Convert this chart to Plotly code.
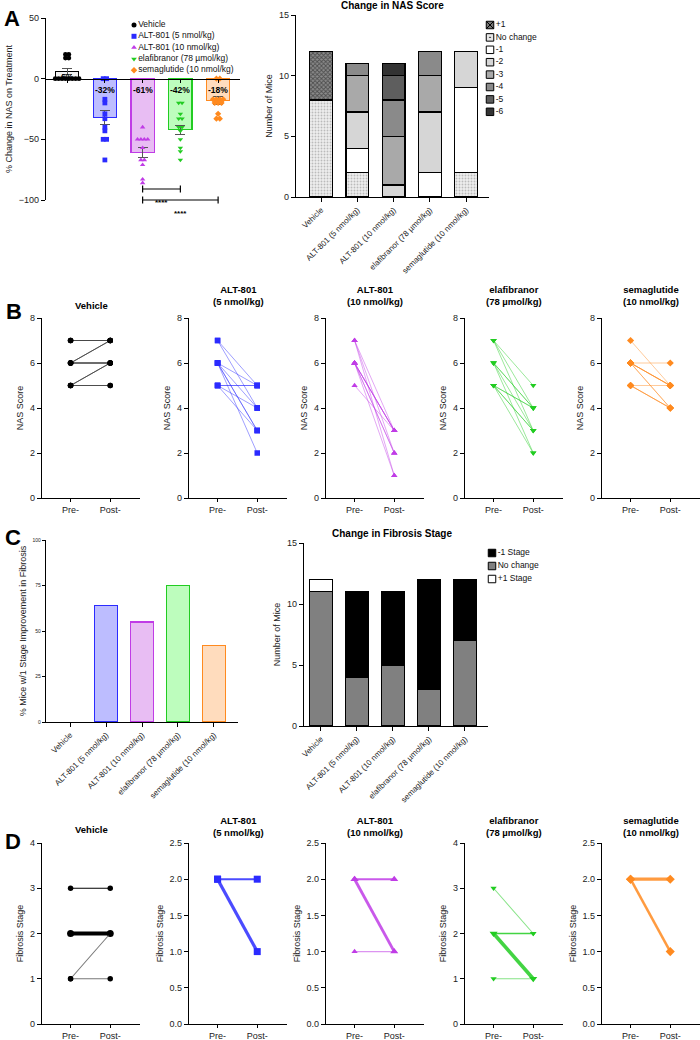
import plotly.graph_objects as go
from collections import Counter

W, H = 700, 1040
FONT = "Liberation Sans, Arial, sans-serif"

# ---------------- data ----------------
groups = ["Vehicle", "ALT-801 (5 nmol/kg)", "ALT-801 (10 nmol/kg)",
          "elafibranor (78 µmol/kg)", "semaglutide (10 nmol/kg)"]
group_titles = ["Vehicle", "ALT-801<br>(5 nmol/kg)", "ALT-801<br>(10 nmol/kg)",
                "elafibranor<br>(78 µmol/kg)", "semaglutide<br>(10 nmol/kg)"]

# A: % change in NAS
nas_pct_mean = [6, -32, -61, -42, -18]
nas_pct_sem = [2.6, 6.0, 4.3, 3.8, 3.0]
nas_pct_vehicle = [0, 0, 0, 0, 0, 0, 0, 0, 17, 17, 20, 20]
nas_pct_alt5 = [0, 0, -17, -20, -29, -33, -40, -43, -50, -50, -67]
nas_pct_alt10 = [-40, -50, -50, -50, -50, -57, -67, -67, -71, -83, -86]
nas_pct_elaf = [-20, -20, -29, -33, -33, -40, -40, -43, -50, -60, -57, -67]
nas_pct_sema = [0, 0, -17, -17, -17, -17, -20, -20, -20, -29, -33, -33]

# A: change in NAS score (number of mice)
nas_plus1 = [4, 0, 0, 0, 0]
nas_nochange = [8, 2, 0, 0, 2]
nas_m1 = [0, 2, 0, 2, 7]
nas_m2 = [0, 3, 1, 5, 3]
nas_m3 = [0, 3, 4, 3, 0]
nas_m4 = [0, 1, 3, 2, 0]
nas_m5 = [0, 0, 2, 0, 0]
nas_m6 = [0, 0, 1, 0, 0]

# B: NAS score pre / post per mouse
nas_pre_vehicle = [7, 7, 7, 6, 6, 6, 6, 6, 5, 5, 5, 5]
nas_post_vehicle = [7, 7, 7, 7, 7, 6, 6, 6, 6, 6, 5, 5]
nas_pre_alt5 = [5, 5, 6, 5, 7, 6, 5, 7, 6, 6, 6]
nas_post_alt5 = [5, 5, 5, 4, 5, 4, 3, 4, 3, 3, 2]
nas_pre_alt10 = [5, 6, 6, 6, 6, 7, 6, 6, 7, 6, 7]
nas_post_alt10 = [3, 3, 3, 3, 3, 3, 2, 2, 2, 1, 1]
nas_pre_elaf = [5, 5, 7, 6, 6, 5, 5, 7, 6, 5, 7, 6]
nas_post_elaf = [4, 4, 5, 4, 4, 3, 3, 4, 3, 2, 3, 2]
nas_pre_sema = [6, 5, 6, 6, 6, 6, 5, 5, 5, 7, 6, 6]
nas_post_sema = [6, 5, 5, 5, 5, 5, 4, 4, 4, 5, 4, 4]

# C: fibrosis
fib_improved_pct = [0, 64, 55, 75, 42]
fib_minus1 = [0, 7, 6, 9, 5]
fib_nochange = [11, 4, 5, 3, 7]
fib_plus1 = [1, 0, 0, 0, 0]

# D: fibrosis stage pre / post per mouse
fib_pre_vehicle = [3, 2, 2, 2, 2, 2, 2, 2, 2, 2, 1, 1]
fib_post_vehicle = [3, 2, 2, 2, 2, 2, 2, 2, 2, 2, 2, 1]
fib_pre_alt5 = [2, 2, 2, 2, 2, 2, 2, 2, 2, 2, 2]
fib_post_alt5 = [2, 2, 2, 2, 1, 1, 1, 1, 1, 1, 1]
fib_pre_alt10 = [2, 2, 2, 2, 2, 2, 2, 2, 2, 2, 1]
fib_post_alt10 = [2, 2, 2, 2, 1, 1, 1, 1, 1, 1, 1]
fib_pre_elaf = [3, 2, 2, 1, 2, 2, 2, 2, 2, 2, 2, 2]
fib_post_elaf = [2, 2, 2, 1, 1, 1, 1, 1, 1, 1, 1, 1]
fib_pre_sema = [2, 2, 2, 2, 2, 2, 2, 2, 2, 2, 2, 2]
fib_post_sema = [2, 2, 2, 2, 2, 2, 2, 1, 1, 1, 1, 1]

# ---------------- styles ----------------
line_colors = ["#000000", "#2b2bff", "#c03ce6", "#22cc22", "#ff8a1f"]
fill_colors = ["#f2f2f2", "#bdbdff", "#e8bdf3", "#bdfdbd", "#ffdcbd"]
rgb = [(0, 0, 0), (43, 43, 255), (192, 60, 230), (34, 204, 34), (255, 138, 31)]
symbols = ["circle", "square", "triangle-up", "triangle-down", "diamond"]

fig = go.Figure()
layout = {}


def fx(p):
    return p / W


def fy(p):
    return 1 - p / H


def add_axes(n, left, right, top, bottom, xr, yr, xkw=None, ykw=None):
    base = dict(showline=True, linecolor="black", linewidth=1.2, ticks="outside",
                ticklen=4, tickwidth=1.1, tickcolor="black", showgrid=False,
                zeroline=False, automargin=False, tickfont=dict(size=9, color="#222"))
    xa = dict(base, domain=[fx(left), fx(right)], range=xr, anchor=f"y{n}")
    ya = dict(base, domain=[fy(bottom), fy(top)], range=yr, anchor=f"x{n}")
    xa.update(xkw or {})
    ya.update(ykw or {})
    s = "" if n == 1 else str(n)
    layout[f"xaxis{s}"] = xa
    layout[f"yaxis{s}"] = ya


def ref(n):
    s = "" if n == 1 else str(n)
    return dict(xaxis=f"x{s}", yaxis=f"y{s}")


def ytitle(text, size=9):
    return dict(text=text, font=dict(size=size, color="#222"), standoff=4)


cat_x = dict(tickvals=list(range(5)), ticktext=groups, tickangle=-45,
             tickfont=dict(size=8, color="#222"))

annotations = []
shapes = []


def note(text, x, y, size=9, bold=False, xanchor="center", yanchor="middle"):
    annotations.append(dict(text=f"<b>{text}</b>" if bold else text, x=fx(x), y=fy(y),
                            xref="paper", yref="paper", showarrow=False,
                            xanchor=xanchor, yanchor=yanchor,
                            font=dict(size=size, color="black", family=FONT)))


# ---------------- A left: % change in NAS ----------------
a_top, a_bottom, a_min, a_max = 18, 200, -100, 50
zero_px = a_top + a_max / (a_max - a_min) * (a_bottom - a_top)
add_axes(1, 46, 240, a_top, a_bottom, [-0.56, 4.58], [a_min, a_max],
         xkw=dict(anchor="free", position=fy(zero_px), tickvals=list(range(5)),
                  showticklabels=False, ticklen=3),
         ykw=dict(tickvals=[-100, -50, 0, 50], title=ytitle("% Change in NAS on Treatment")))

fig.add_trace(go.Bar(x=list(range(5)), y=nas_pct_mean, width=0.62,
                     marker=dict(color=fill_colors, line=dict(color=line_colors, width=1.2)),
                     error_y=dict(type="data", array=nas_pct_sem, color="#555",
                                  thickness=1, width=5),
                     showlegend=False, **ref(1)))

pct_points = [nas_pct_vehicle, nas_pct_alt5, nas_pct_alt10, nas_pct_elaf, nas_pct_sema]
for i, vals in enumerate(pct_points):
    counts = Counter(vals)
    seen = Counter()
    xs = []
    for v in vals:
        k = counts[v]
        xs.append(i + (seen[v] - (k - 1) / 2) * 0.09)
        seen[v] += 1
    fig.add_trace(go.Scatter(x=xs, y=vals, mode="markers", cliponaxis=False,
                             marker=dict(symbol=symbols[i], size=4.8, color=line_colors[i]),
                             showlegend=False, **ref(1)))

for i, v in enumerate(nas_pct_mean):
    annotations.append(dict(text=f"<b>{v}%</b>", x=i, y=1 if v > 0 else -9,
                            xref="x", yref="y", showarrow=False,
                            font=dict(size=8.5, color="black", family=FONT)))

# significance brackets
for (a, b, py) in [(2, 3, 189), (2, 4, 200)]:
    shapes.append(dict(type="line", xref="x", yref="paper", x0=a, x1=b, y0=fy(py), y1=fy(py),
                       line=dict(color="black", width=1.2)))
    for xe in (a, b):
        shapes.append(dict(type="line", xref="x", yref="paper", x0=xe, x1=xe,
                           y0=fy(py - 3.5), y1=fy(py + 3.5), line=dict(color="black", width=1.2)))
    annotations.append(dict(text="<b>****</b>", x=(a + b) / 2, y=fy(py + 7), xref="x",
                            yref="paper", showarrow=False,
                            font=dict(size=8, color="black", family=FONT)))

# ---------------- A right: change in NAS score ----------------
add_axes(2, 296, 489, 15, 197, [-0.69, 4.63], [0, 15],
         xkw=cat_x, ykw=dict(tickvals=[0, 5, 10, 15], title=ytitle("Number of Mice")))

nas_stack = [
    ("No change", nas_nochange, dict(color="#eeeeee", pattern=dict(shape=".", fgcolor="#888", size=3, solidity=0.3))),
    ("-1", nas_m1, dict(color="white")),
    ("-2", nas_m2, dict(color="#d6d6d6")),
    ("-3", nas_m3, dict(color="#a9a9a9")),
    ("-4", nas_m4, dict(color="#8a8a8a")),
    ("-5", nas_m5, dict(color="#5e5e5e")),
    ("-6", nas_m6, dict(color="#333333")),
    ("+1", nas_plus1, dict(color="#8a8a8a", pattern=dict(shape="x", fgcolor="#111", size=3, solidity=0.5))),
]
for name, vals, mk in nas_stack:
    mk = dict(mk, line=dict(color="black", width=1.3))
    fig.add_trace(go.Bar(x=list(range(5)), y=[v if v else None for v in vals], width=0.63,
                         name=name, marker=mk, showlegend=False, **ref(2)))

note("Change in NAS Score", 392, 6, size=10, bold=True)

# ---------------- B: NAS pre/post ----------------
b_left = [42, 189, 326, 465, 602]
nas_pairs = [(nas_pre_vehicle, nas_post_vehicle), (nas_pre_alt5, nas_post_alt5),
             (nas_pre_alt10, nas_post_alt10), (nas_pre_elaf, nas_post_elaf),
             (nas_pre_sema, nas_post_sema)]
prepost_x = dict(tickvals=[0, 1], ticktext=["Pre-", "Post-"], ticklen=3)
for i, (pre, post) in enumerate(nas_pairs):
    n = 3 + i
    add_axes(n, b_left[i], b_left[i] + 98, 318, 498, [-0.72, 1.75], [0, 8],
             xkw=prepost_x, ykw=dict(tickvals=[0, 2, 4, 6, 8], title=ytitle("NAS Score")))
    xs, ys = [], []
    for a, b in zip(pre, post):
        xs += [0, 1, None]
        ys += [a, b, None]
    lc = "rgba(70,70,70,0.9)" if i == 0 else "rgba(%d,%d,%d,0.5)" % rgb[i]
    fig.add_trace(go.Scatter(x=xs, y=ys, mode="lines+markers",
                             line=dict(color=lc, width=0.9),
                             marker=dict(symbol=symbols[i], size=5.5, color=line_colors[i]),
                             showlegend=False, **ref(n)))
    cx = b_left[i] + 49
    two = "<br>" in group_titles[i]
    note(group_titles[i], cx, 309 if two else 313, size=9.5, bold=True, yanchor="bottom")

# ---------------- C left: % mice improved ----------------
add_axes(8, 46, 238, 540, 722, [-0.67, 4.67], [0, 100],
         xkw=cat_x,
         ykw=dict(tickvals=[0, 25, 50, 75, 100], tickfont=dict(size=5, color="#222"),
                  ticklen=3, title=ytitle("% Mice w/1 Stage Improvement in Fibrosis")))
fig.add_trace(go.Bar(x=list(range(5)), y=[v if v else None for v in fib_improved_pct], width=0.64,
                     marker=dict(color=fill_colors, line=dict(color=line_colors, width=1.6)),
                     showlegend=False, **ref(8)))

# ---------------- C right: change in fibrosis stage ----------------
add_axes(9, 304, 488, 543, 726, [-0.47, 4.64], [0, 15],
         xkw=cat_x, ykw=dict(tickvals=[0, 5, 10, 15], title=ytitle("Number of Mice")))
fib_stack = [("No change", fib_nochange, "#808080"), ("-1 Stage", fib_minus1, "#000000"),
             ("+1 Stage", fib_plus1, "#ffffff")]
for name, vals, col in fib_stack:
    fig.add_trace(go.Bar(x=list(range(5)), y=[v if v else None for v in vals], width=0.64,
                         name=name, marker=dict(color=col, line=dict(color="black", width=1.3)),
                         showlegend=False, **ref(9)))
note("Change in Fibrosis Stage", 392, 533, size=10, bold=True)

# ---------------- D: fibrosis pre/post ----------------
fib_pairs = [(fib_pre_vehicle, fib_post_vehicle), (fib_pre_alt5, fib_post_alt5),
             (fib_pre_alt10, fib_post_alt10), (fib_pre_elaf, fib_post_elaf),
             (fib_pre_sema, fib_post_sema)]
fib_ranges = [4, 2.5, 2.5, 4, 2.5]
for i, (pre, post) in enumerate(fib_pairs):
    n = 10 + i
    top = fib_ranges[i]
    if top == 4:
        yk = dict(tickvals=[0, 1, 2, 3, 4])
    else:
        yk = dict(tickvals=[0, 0.5, 1, 1.5, 2, 2.5], tickformat=".1f")
    yk["title"] = ytitle("Fibrosis Stage")
    add_axes(n, b_left[i], b_left[i] + 98, 843, 1024, [-0.72, 1.75], [0, top],
             xkw=prepost_x, ykw=yk)
    for (a, b), c in Counter(zip(pre, post)).items():
        if i == 0:
            lc = "black" if c > 1 or a == b == 3 else "#777"
        else:
            lc = "rgba(%d,%d,%d,%s)" % (rgb[i] + ((0.85 if c > 1 else 0.55),))
        fig.add_trace(go.Scatter(x=[0, 1], y=[a, b], mode="lines+markers",
                                 line=dict(color=lc, width=0.7 + 0.36 * c),
                                 marker=dict(symbol=symbols[i], size=5.5 + (1.5 if c > 3 else 0),
                                             color=line_colors[i]),
                                 showlegend=False, **ref(n)))
    cx = b_left[i] + 49
    two = "<br>" in group_titles[i]
    note(group_titles[i], cx, 840 if two else 837, size=9.5, bold=True, yanchor="bottom")

# ---------------- legends (drawn on an overlay axis in pixel units) ----------------
layout["xaxis15"] = dict(domain=[0, 1], range=[0, W], visible=False, anchor="y15", fixedrange=True)
layout["yaxis15"] = dict(domain=[0, 1], range=[H, 0], visible=False, anchor="x15", fixedrange=True)

# A left legend
fig.add_trace(go.Scatter(x=[134] * 5, y=[25 + 11.3 * k for k in range(5)], mode="markers+text",
                         text=groups, textposition="middle right",
                         textfont=dict(size=8.5, color="#111"),
                         marker=dict(symbol=symbols, size=5, color=line_colors),
                         showlegend=False, **ref(15)))

# A right legend
leg_names = ["+1", "No change", "-1", "-2", "-3", "-4", "-5", "-6"]
leg_fill = ["#777", "#e6e6e6", "white", "#d6d6d6", "#a9a9a9", "#8a8a8a", "#5e5e5e", "#333"]
leg_sym = ["square-x", "square-dot", "square", "square", "square", "square", "square", "square"]
fig.add_trace(go.Scatter(x=[490] * 8, y=[25 + 12.4 * k for k in range(8)], mode="markers+text",
                         text=leg_names, textposition="middle right",
                         textfont=dict(size=8.5, color="#111"),
                         marker=dict(symbol=leg_sym, size=7.5, color=leg_fill,
                                     line=dict(color="black", width=1)),
                         showlegend=False, **ref(15)))

# C right legend
fig.add_trace(go.Scatter(x=[492] * 3, y=[553 + 13 * k for k in range(3)], mode="markers+text",
                         text=["-1 Stage", "No change", "+1 Stage"], textposition="middle right",
                         textfont=dict(size=8.5, color="#111"),
                         marker=dict(symbol="square", size=7.5, color=["#000", "#808080", "#fff"],
                                     line=dict(color="black", width=1)),
                         showlegend=False, **ref(15)))

# panel letters
for letter, x, y in [("A", 12, 18), ("B", 14, 311), ("C", 13, 537), ("D", 13, 841)]:
    note(letter, x, y, size=22, bold=True)

fig.update_layout(
    width=W, height=H, margin=dict(l=0, r=0, t=0, b=0),
    paper_bgcolor="white", plot_bgcolor="rgba(0,0,0,0)",
    font=dict(family=FONT, color="#222"),
    barmode="stack", showlegend=False,
    annotations=annotations, shapes=shapes,
    **layout,
)

# the page body has a default 8px margin; drop it so the figure sits at the top-left corner
fig.write_html("out.html", config={"displayModeBar": False},
               post_script="document.body.style.margin='0';document.body.style.overflow='hidden';")
